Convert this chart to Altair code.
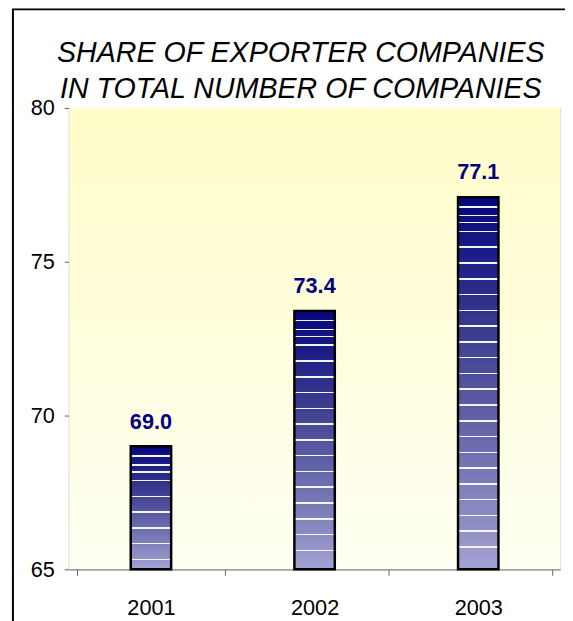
import altair as alt
import pandas as pd

years = ["2001", "2002", "2003"]
shares = [69.0, 73.4, 77.1]
y_ticks = [65, 70, 75, 80]
title_lines = ["SHARE OF EXPORTER COMPANIES", "IN TOTAL NUMBER OF COMPANIES"]

df = pd.DataFrame({"year": years, "share": shares,
                   "label": [f"{v:.1f}" for v in shares]})

W, H = 498, 468
Y0, Y1 = 65, 80
FONT = "Liberation Sans, Arial"

# bar fill: colour ramp (top -> bottom) and white banding lines (px below bar top)
ramp = [(0.0, (6, 6, 126)), (0.35, (58, 58, 142)), (1.0, (162, 162, 210))]
band_px = [9, 18, 25, 34, 50, 66, 82, 98, 114, 130, 146, 162, 178, 194, 210,
           226, 242, 258, 274, 290, 306, 322, 338, 354, 370]


def ramp_color(t):
    for (a, ca), (b, cb) in zip(ramp[:-1], ramp[1:]):
        if t <= b:
            f = (t - a) / (b - a) if b > a else 0
            c = [round(ca[i] + (cb[i] - ca[i]) * f) for i in range(3)]
            return "#%02x%02x%02x" % tuple(c)
    return "#%02x%02x%02x" % ramp[-1][1]


def bar_gradient(value):
    h = (value - Y0) / (Y1 - Y0) * H
    stops = [alt.GradientStop(color=ramp_color(0), offset=0)]
    for o in band_px:
        if o > h - 8:
            break
        t0, t1 = o / h, (o + 1.6) / h
        stops += [alt.GradientStop(color=ramp_color(t0), offset=t0),
                  alt.GradientStop(color="#f4f4f4", offset=t0),
                  alt.GradientStop(color="#f4f4f4", offset=t1),
                  alt.GradientStop(color=ramp_color(t1), offset=t1)]
    stops.append(alt.GradientStop(color=ramp_color(1), offset=1))
    return alt.Gradient(gradient="linear", x1=0, x2=0, y1=0, y2=1, stops=stops)


bg_grad = alt.Gradient(
    gradient="linear", x1=0, x2=0, y1=0, y2=1,
    stops=[alt.GradientStop(color="#FFFDC8", offset=0),
           alt.GradientStop(color="#FFFFF3", offset=1)])

one = pd.DataFrame({"d": [0]})

frame = alt.Chart(one).mark_rect(filled=False, stroke="black", strokeWidth=2).encode(
    x=alt.value(-57), x2=alt.value(W + 30), y=alt.value(-100), y2=alt.value(H + 80))

bg = alt.Chart(one).mark_rect(color=bg_grad).encode(
    x=alt.value(0), x2=alt.value(W), y=alt.value(0), y2=alt.value(H))

title_layers = [
    alt.Chart(one).mark_text(fontSize=29, font=FONT, fontStyle="italic", color="black",
                             align="center", baseline="alphabetic").encode(
        x=alt.value(W / 2 - 14), y=alt.value(yy), text=alt.value(t))
    for t, yy in zip(title_lines, [-47, -10])
]

base = alt.Chart(df)

x_enc = alt.X("year:N", sort=years, title=None,
              axis=alt.Axis(labelAngle=0, tickBand="extent", tickSize=6,
                            labelFontSize=22, labelFont=FONT, labelColor="black",
                            labelPadding=23, domainColor="#808080", tickColor="#606060",
                            domainWidth=1.5))
y_scale = alt.Scale(domain=[Y0, Y1], nice=False, zero=False)
y_enc = alt.Y("share:Q", scale=y_scale, title=None,
              axis=alt.Axis(values=y_ticks, grid=False, tickSize=5, labelFontSize=22,
                            labelFont=FONT, labelColor="black", labelPadding=10,
                            domainColor="#808080", tickColor="#606060", domainWidth=1.5))

bar_layers = []
for yr, v in zip(years, shares):
    bar_layers.append(
        base.transform_filter(alt.datum.year == yr)
        .mark_bar(size=41, color=bar_gradient(v), stroke="black", strokeWidth=2.5)
        .encode(x=x_enc, y=y_enc, y2=alt.datum(Y0)))

labels = base.mark_text(dy=-13, baseline="bottom", fontSize=22, fontWeight="bold",
                        color="#000080", font="Liberation Sans").encode(
    x=alt.X("year:N", sort=years), y=alt.Y("share:Q", scale=y_scale), text="label:N")

chart = alt.layer(frame, bg, *bar_layers, labels, *title_layers).properties(
    width=W, height=H,
    autosize=alt.AutoSizeParams(type="none"),
    padding={"left": 62, "top": 97, "right": 5, "bottom": 48},
).configure_view(stroke=None).configure(background="white")

chart.save("out.html", embed_options={"renderer": "svg", "actions": False})
